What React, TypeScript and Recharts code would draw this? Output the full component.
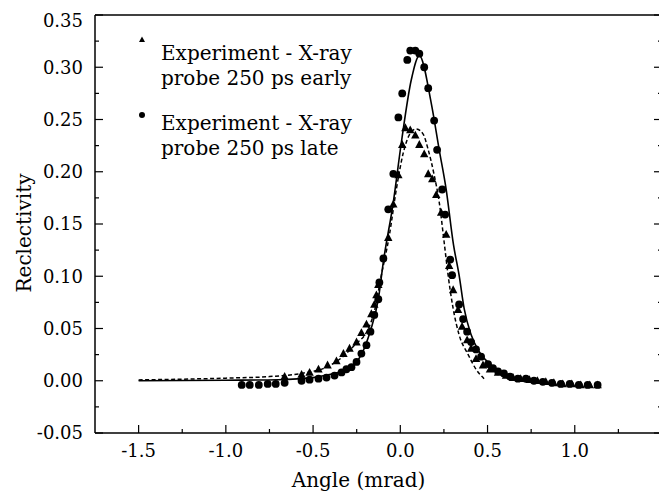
import React from "react";
import { ComposedChart, Line, Scatter, XAxis, YAxis, Legend } from "recharts";

const FONT = "'DejaVu Serif', serif";

// tick values
const xMajor = [-1.5, -1.0, -0.5, 0.0, 0.5, 1.0];
const xMinor = [-1.25, -0.75, -0.25, 0.25, 0.75, 1.25];
const yMajor = [-0.05, 0.0, 0.05, 0.1, 0.15, 0.2, 0.25, 0.3, 0.35];
const yMinor = [-0.025, 0.025, 0.075, 0.125, 0.175, 0.225, 0.275, 0.325];

// measured points, X-ray probe 250 ps early (triangles)
const earlyPoints: [number, number][] = [
  [-0.663, 0.004], [-0.566, 0.006], [-0.52, 0.008], [-0.469, 0.011], [-0.417, 0.015],
  [-0.366, 0.019], [-0.326, 0.026], [-0.291, 0.031], [-0.251, 0.037], [-0.223, 0.046],
  [-0.194, 0.054], [-0.166, 0.064], [-0.149, 0.073], [-0.137, 0.082], [-0.126, 0.092],
  [-0.069, 0.137], [-0.04, 0.169], [-0.011, 0.197], [0.011, 0.226], [0.029, 0.242],
  [0.057, 0.24], [0.086, 0.235], [0.109, 0.226], [0.137, 0.217], [0.16, 0.198],
  [0.183, 0.193], [0.206, 0.178], [0.234, 0.161], [0.263, 0.14], [0.28, 0.11],
  [0.303, 0.087], [0.331, 0.068], [0.354, 0.052], [0.383, 0.039], [0.406, 0.031],
  [0.434, 0.021], [0.474, 0.015], [0.514, 0.011], [0.56, 0.008], [0.606, 0.005],
  [0.646, 0.003], [0.69, 0.002], [0.74, 0.001], [0.786, 0.0], [0.834, -0.001],
  [0.88, -0.002], [0.931, -0.003], [0.983, -0.003], [1.034, -0.004], [1.086, -0.004],
  [1.131, -0.004],
];

// measured points, X-ray probe 250 ps late (circles)
const latePoints: [number, number][] = [
  [-0.909, -0.004], [-0.863, -0.004], [-0.811, -0.004], [-0.76, -0.003], [-0.714, -0.003],
  [-0.663, -0.002], [-0.566, 0.0], [-0.52, 0.001], [-0.469, 0.002], [-0.423, 0.003],
  [-0.377, 0.005], [-0.337, 0.008], [-0.309, 0.011], [-0.28, 0.013], [-0.251, 0.018],
  [-0.223, 0.026], [-0.194, 0.034], [-0.171, 0.047], [-0.149, 0.063], [-0.126, 0.078],
  [-0.12, 0.094], [-0.097, 0.117], [-0.069, 0.164], [-0.04, 0.198], [-0.011, 0.252],
  [0.011, 0.275], [0.04, 0.307], [0.057, 0.316], [0.086, 0.316], [0.109, 0.313],
  [0.137, 0.3], [0.16, 0.28], [0.194, 0.249], [0.211, 0.221], [0.24, 0.183],
  [0.257, 0.159], [0.286, 0.116], [0.297, 0.101], [0.337, 0.073], [0.36, 0.059],
  [0.383, 0.047], [0.406, 0.037], [0.434, 0.03], [0.463, 0.023], [0.503, 0.016],
  [0.531, 0.012], [0.56, 0.009], [0.594, 0.007], [0.629, 0.004], [0.674, 0.002],
  [0.72, 0.002], [0.766, 0.0], [0.817, -0.001], [0.869, -0.002], [0.92, -0.003],
  [0.971, -0.003], [1.023, -0.004], [1.074, -0.004], [1.131, -0.004],
];

// fitted curves
const earlyFit: [number, number][] = [
  [-1.5, 0.0008], [-1.25, 0.0015], [-1.0, 0.0025], [-0.75, 0.004], [-0.566, 0.007],
  [-0.411, 0.014], [-0.337, 0.022], [-0.263, 0.034], [-0.183, 0.05], [-0.149, 0.066],
  [-0.11, 0.1], [-0.063, 0.139], [-0.023, 0.183], [0.017, 0.218], [0.051, 0.235],
  [0.091, 0.241], [0.131, 0.236], [0.16, 0.221], [0.194, 0.197], [0.223, 0.171],
  [0.251, 0.133], [0.274, 0.101], [0.303, 0.069], [0.337, 0.044], [0.389, 0.025],
  [0.434, 0.011], [0.48, 0.002],
];

const lateFit: [number, number][] = [
  [-1.5, 0.0], [-1.0, 0.0005], [-0.7, 0.001], [-0.5, 0.003], [-0.434, 0.005],
  [-0.31, 0.011], [-0.223, 0.025], [-0.171, 0.048], [-0.126, 0.078], [-0.097, 0.114],
  [-0.04, 0.171], [0.006, 0.228], [0.063, 0.288], [0.109, 0.311], [0.177, 0.266],
  [0.223, 0.221], [0.263, 0.183], [0.305, 0.13], [0.337, 0.101], [0.366, 0.069],
  [0.406, 0.044], [0.451, 0.028], [0.52, 0.015], [0.6, 0.006], [0.65, 0.003],
];

const legendItems = [
  { shape: "triangle", lines: ["Experiment - X-ray", "probe 250 ps early"] },
  { shape: "circle", lines: ["Experiment - X-ray", "probe 250 ps late"] },
];

const toXY = (arr: [number, number][]) => arr.map(([x, y]) => ({ x, y }));

const xTicks = [...xMajor, ...xMinor].sort((a, b) => a - b);
const yTicks = [...yMajor, ...yMinor].sort((a, b) => a - b);
const isIn = (list: number[], v: number) => list.some((m) => Math.abs(m - v) < 1e-6);

const AxisTick = (props: any) => {
  const { x, y, payload, side } = props;
  const v = payload.value;
  const horizontal = side === "bottom" || side === "top";
  const major = isIn(horizontal ? xMajor : yMajor, v);
  const len = major ? 8 : 4;
  // the top label sits a little below its tick in the original
  const topShift = Math.abs(v - yMajor[yMajor.length - 1]) < 1e-6 ? 6 : 0;
  let line;
  if (side === "bottom") line = <line x1={x} x2={x} y1={y} y2={y - len} />;
  else if (side === "top") line = <line x1={x} x2={x} y1={y} y2={y + len} />;
  else if (side === "left") line = <line x1={x} x2={x + len} y1={y} y2={y} />;
  else line = <line x1={x} x2={x - len} y1={y} y2={y} />;
  return (
    <g stroke="#000" strokeWidth={1.2}>
      {line}
      {major && side === "bottom" && (
        <text x={x} y={y + 24} textAnchor="middle" fontFamily={FONT} fontSize={18} fill="#000" stroke="none">
          {v.toFixed(1)}
        </text>
      )}
      {major && side === "left" && (
        <text x={x - 12} y={y + topShift} dy="0.36em" textAnchor="end" fontFamily={FONT} fontSize={18} fill="#000" stroke="none">
          {v.toFixed(2)}
        </text>
      )}
    </g>
  );
};

const Tri = (p: any) => (
  <polygon points={`${p.cx},${p.cy - 4.5} ${p.cx - 4.2},${p.cy + 3.3} ${p.cx + 4.2},${p.cy + 3.3}`} fill="#000" />
);
const Dot = (p: any) => <circle cx={p.cx} cy={p.cy} r={3.9} fill="#000" />;

const renderLegend = () => (
  <div style={{ fontFamily: FONT, fontSize: 20, lineHeight: "25px", color: "#000" }}>
    {legendItems.map((item, i) => (
      <div key={i} style={{ position: "relative", paddingLeft: 26, marginBottom: i === 0 ? 20 : 0, whiteSpace: "nowrap" }}>
        <svg width={14} height={14} style={{ position: "absolute", left: 0, top: item.shape === "triangle" ? -8 : -3 }}>
          {item.shape === "triangle" ? (
            <polygon points="7,3.5 4,9 10,9" fill="#000" />
          ) : (
            <circle cx={7} cy={7} r={3} fill="#000" />
          )}
        </svg>
        {item.lines.map((l, j) => (
          <div key={j}>{l}</div>
        ))}
      </div>
    ))}
  </div>
);

export default function App() {
  return (
    <div style={{ width: 659, height: 484 }}>
      <ComposedChart
        width={659}
        height={484}
        margin={{ top: 6, right: 4, bottom: 0, left: 0 }}
        style={{ overflow: "visible" }}
      >
        <XAxis
          xAxisId={0}
          type="number"
          dataKey="x"
          domain={[-1.75, 1.5]}
          allowDataOverflow
          ticks={xTicks}
          interval={0}
          height={59}
          tickSize={0}
          tickMargin={0}
          tickLine={false}
          axisLine={{ stroke: "#000", strokeWidth: 1.5 }}
          tick={(p: any) => <AxisTick {...p} side="bottom" />}
          label={{
            content: ({ viewBox }: any) => (
              <text x={viewBox.x + viewBox.width / 2 - 20} y={viewBox.y + viewBox.height - 5} textAnchor="middle" fontFamily={FONT} fontSize={20} fill="#000">
                Angle (mrad)
              </text>
            ),
          }}
        />
        <XAxis
          xAxisId="top"
          orientation="top"
          type="number"
          domain={[-1.75, 1.5]}
          allowDataOverflow
          ticks={xTicks}
          interval={0}
          height={1}
          tickSize={0}
          tickMargin={0}
          tickLine={false}
          axisLine={{ stroke: "#000", strokeWidth: 1.5 }}
          tick={(p: any) => <AxisTick {...p} side="top" />}
        />
        <YAxis
          yAxisId={0}
          type="number"
          dataKey="y"
          domain={[-0.05, 0.35]}
          allowDataOverflow
          ticks={yTicks}
          interval={0}
          width={87}
          tickSize={0}
          tickMargin={0}
          tickLine={false}
          axisLine={{ stroke: "#000", strokeWidth: 1.5 }}
          tick={(p: any) => <AxisTick {...p} side="left" />}
          label={{
            content: ({ viewBox }: any) => {
              const cx = 16;
              const cy = viewBox.y + viewBox.height / 2 + 9;
              return (
                <text x={cx} y={cy} transform={`rotate(-90 ${cx} ${cy})`} textAnchor="middle" dominantBaseline="central" fontFamily={FONT} fontSize={20} fill="#000">
                  Reclectivity
                </text>
              );
            },
          }}
        />
        <YAxis
          yAxisId="right"
          orientation="right"
          type="number"
          domain={[-0.05, 0.35]}
          allowDataOverflow
          ticks={yTicks}
          interval={0}
          width={1}
          tickSize={0}
          tickMargin={0}
          tickLine={false}
          axisLine={{ stroke: "#000", strokeWidth: 1.5 }}
          tick={(p: any) => <AxisTick {...p} side="right" />}
        />
        <Legend
          layout="vertical"
          align="center"
          verticalAlign="middle"
          wrapperStyle={{ left: 127, top: 33, width: "auto", height: "auto" }}
          content={renderLegend}
        />
        <Line
          data={toXY(earlyFit)}
          dataKey="y"
          type="monotone"
          stroke="#000"
          strokeWidth={1.5}
          strokeDasharray="4 2.5"
          dot={false}
          activeDot={false}
          isAnimationActive={false}
          legendType="none"
        />
        <Line
          data={toXY(lateFit)}
          dataKey="y"
          type="monotone"
          stroke="#000"
          strokeWidth={1.6}
          dot={false}
          activeDot={false}
          isAnimationActive={false}
          legendType="none"
        />
        <Scatter data={toXY(earlyPoints)} shape={Tri} isAnimationActive={false} legendType="none" />
        <Scatter data={toXY(latePoints)} shape={Dot} isAnimationActive={false} legendType="none" />
      </ComposedChart>
    </div>
  );
}
